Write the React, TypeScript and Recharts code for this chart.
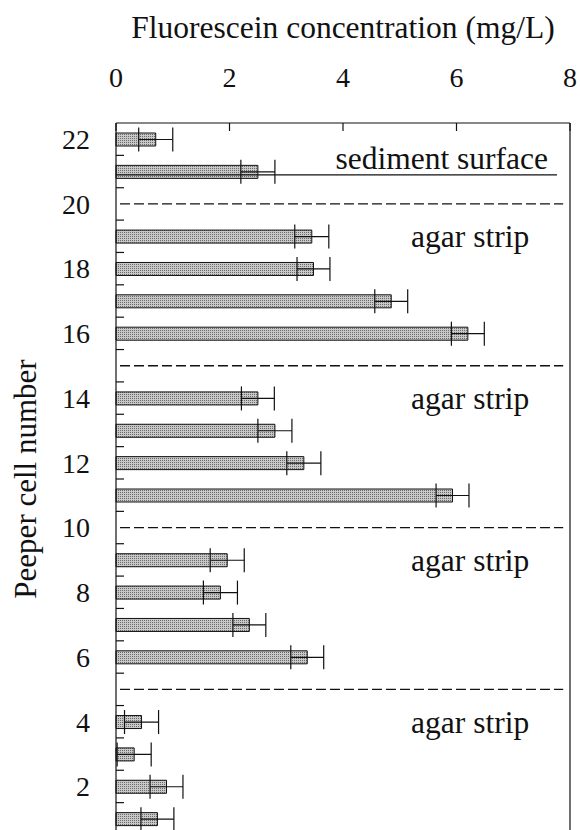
import {
  BarChart,
  Bar,
  XAxis,
  YAxis,
  ErrorBar,
  ReferenceLine,
  ReferenceDot,
} from "recharts";

const cells = [22, 21, 19, 18, 17, 16, 14, 13, 12, 11, 9, 8, 7, 6, 4, 3, 2, 1];
const concentration = [
  0.7, 2.5, 3.45, 3.48, 4.85, 6.2, 2.5, 2.8, 3.31, 5.93, 1.96, 1.84, 2.35,
  3.37, 0.45, 0.32, 0.89, 0.73,
];
const errors = [
  0.3, 0.3, 0.3, 0.29, 0.29, 0.29, 0.29, 0.3, 0.3, 0.29, 0.3, 0.3, 0.29, 0.29,
  0.3, 0.3, 0.29, 0.29,
];

const xTicks = [0, 2, 4, 6, 8];
const yLabels = [2, 4, 6, 8, 10, 12, 14, 16, 18, 20, 22];
const yMinor = [1.5, 2.5, 3.5, 4.5, 5.5, 6.5, 7.5, 8.5, 9.5, 10.5, 11.5, 12.5,
  13.5, 14.5, 15.5, 16.5, 17.5, 18.5, 19.5, 20.5, 21.5];

const dividers = [20, 15, 10, 5];
const agarRows = [19, 14, 9, 4];
const surfaceLevel = 20.9;

const data = cells.map((cell, i) => ({
  cell,
  value: concentration[i],
  err: errors[i],
}));

const FONT = '"Liberation Serif", "Times New Roman", Times, "DejaVu Serif", serif';
const INK = "#111";

function XTick(props: any) {
  const { x, y, payload } = props;
  return (
    <g>
      <line x1={x} y1={y} x2={x} y2={y + 8} stroke={INK} strokeWidth={1.2} />
      <text
        x={x}
        y={y - 36}
        textAnchor="middle"
        style={{ fontFamily: FONT, fontSize: 28 }}
        fill={INK}
      >
        {payload.value}
      </text>
    </g>
  );
}

function YTick(props: any) {
  const { x, y, payload } = props;
  const v = payload.value;
  if (v % 1 !== 0) {
    return <line x1={x} y1={y} x2={x + 8} y2={y} stroke={INK} strokeWidth={1.2} />;
  }
  return (
    <text
      x={x - 26}
      y={y}
      dy="0.35em"
      textAnchor="end"
      style={{ fontFamily: FONT, fontSize: 28 }}
      fill={INK}
    >
      {v}
    </text>
  );
}

const annot = { style: { fontFamily: FONT, fontSize: 31.5 }, fill: INK };

export default function App() {
  return (
    <div
      style={{
        position: "fixed",
        left: 0,
        top: 0,
        width: 580,
        height: 830,
        overflow: "hidden",
        background: "#fff",
        fontFamily: FONT,
      }}
    >
      <BarChart
        width={580}
        height={860}
        data={data}
        layout="vertical"
        margin={{ top: 63, right: 0, bottom: 25, left: 0 }}
      >
        <defs>
          <pattern id="stipple" width="2" height="2" patternUnits="userSpaceOnUse">
            <rect width="2" height="2" fill="#c8c8c8" />
            <rect width="1" height="1" fill="#6a6a6a" />
          </pattern>
        </defs>
        <XAxis
          type="number"
          orientation="top"
          xAxisId="x"
          domain={[0, 8]}
          ticks={xTicks}
          height={60}
          tickSize={0}
          tickMargin={0}
          tickLine={false}
          tick={<XTick />}
          interval={0}
          axisLine={{ stroke: INK, strokeWidth: 1.2 }}
          label={({ viewBox }: any) => (
            <text
              x={viewBox.x + viewBox.width / 2}
              y={viewBox.y - 25}
              textAnchor="middle"
              style={{ fontFamily: FONT, fontSize: 31.5 }}
              fill={INK}
            >
              Fluorescein concentration (mg/L)
            </text>
          )}
        />
        <YAxis
          yAxisId="y"
          type="number"
          dataKey="cell"
          domain={[0.5, 22.5]}
          reversed
          allowDecimals
          ticks={[...yMinor, ...yLabels]}
          interval={0}
          width={116}
          tickSize={0}
          tickMargin={0}
          tickLine={false}
          tick={<YTick />}
          axisLine={{ stroke: INK, strokeWidth: 1.2 }}
          label={({ viewBox }: any) => (
            <text
              x={viewBox.x + 36}
              y={viewBox.y + viewBox.height / 2}
              transform={`rotate(-90, ${viewBox.x + 36}, ${viewBox.y + viewBox.height / 2})`}
              textAnchor="middle"
              style={{ fontFamily: FONT, fontSize: 31 }}
              fill={INK}
            >
              Peeper cell number
            </text>
          )}
        />
        <YAxis
          yAxisId="frame"
          orientation="right"
          type="number"
          domain={[0.5, 22.5]}
          width={10}
          tick={false}
          tickLine={false}
          axisLine={{ stroke: INK, strokeWidth: 1.2 }}
        />
        <Bar
          xAxisId="x"
          yAxisId="y"
          dataKey="value"
          barSize={13}
          fill="url(#stipple)"
          stroke={INK}
          strokeWidth={1}
          isAnimationActive={false}
        >
          <ErrorBar
            dataKey="err"
            direction="x"
            width={12}
            stroke={INK}
            strokeWidth={1.2}
            isAnimationActive={false}
          />
        </Bar>
        {dividers.map((d) => (
          <ReferenceLine
            key={d}
            xAxisId="x"
            yAxisId="y"
            segment={[
              { x: 0.07, y: d },
              { x: 7.88, y: d },
            ]}
            stroke={INK}
            strokeWidth={1.3}
            strokeDasharray="10 4"
          />
        ))}
        <ReferenceLine
          xAxisId="x"
          yAxisId="y"
          segment={[
            { x: 0, y: surfaceLevel },
            { x: 7.77, y: surfaceLevel },
          ]}
          stroke={INK}
          strokeWidth={1.2}
        />
        <ReferenceDot
          xAxisId="x"
          yAxisId="y"
          x={5.74}
          y={21.42}
          r={0}
          fill="none"
          stroke="none"
          label={{ value: "sediment surface", position: "center", ...annot }}
        />
        {agarRows.map((r) => (
          <ReferenceDot
            key={r}
            xAxisId="x"
            yAxisId="y"
            x={6.24}
            y={r}
            r={0}
            fill="none"
            stroke="none"
            label={{ value: "agar strip", position: "center", ...annot }}
          />
        ))}
      </BarChart>
    </div>
  );
}
